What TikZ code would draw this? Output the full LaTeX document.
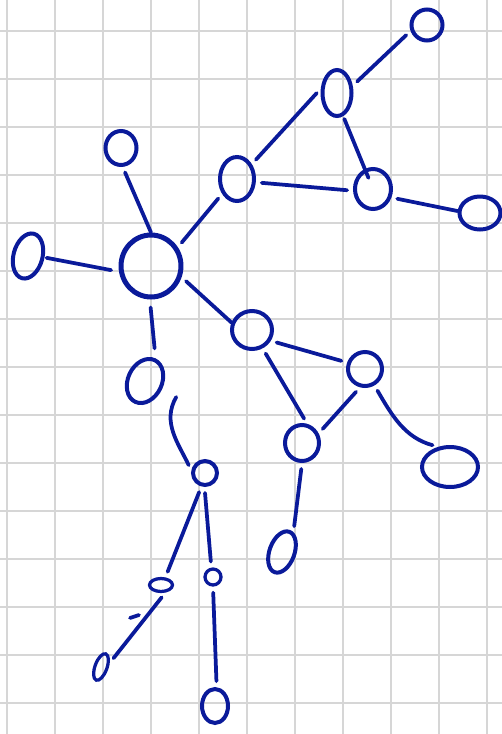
\documentclass[tikz,border=0pt]{standalone}
\usepackage{tikz}
\usetikzlibrary{calc}
\usetikzlibrary{shapes.geometric}
\definecolor{ink}{HTML}{0A1A9A}
\definecolor{paper-grid}{HTML}{D6D6D6}

\begin{document}
\begin{tikzpicture}[
    x=0.02cm, y=-0.02cm,
    vertex/.style={ellipse, draw=ink, line width=0.08cm, inner sep=0pt},
    small/.style={ellipse, draw=ink, line width=0.065cm, inner sep=0pt},
    hubnode/.style={ellipse, draw=ink, line width=0.1cm, inner sep=0pt, minimum width=1.20cm, minimum height=1.24cm},
    link/.style={draw=ink, line width=0.075cm, line cap=round, shorten >=0.12cm, shorten <=0.12cm},
    gridline/.style={draw=paper-grid, line width=0.035cm}
]
\useasboundingbox[fill=white] (0,0) rectangle (502,734);

% ── Grid paper ────────────────────────────────────────────────
\foreach \gx in {0,...,10}
    \draw[gridline] ({7+48*\gx},0) -- ({7+48*\gx},734);
\foreach \gy in {0,...,14}
    \draw[gridline] (0,{31+48*\gy}) -- (502,{31+48*\gy});

% ── Upper part (hub and triangle) ─────────────────────────────
\node[hubnode] (hub) at (151,266) {};
\node[vertex, minimum width=0.62cm, minimum height=0.62cm] (v1) at (427,25) {};
\node[vertex, minimum width=0.58cm, minimum height=0.92cm] (v2) at (337,93) {};
\node[vertex, minimum width=0.68cm, minimum height=0.88cm] (v3) at (237,179) {};
\node[vertex, minimum width=0.72cm, minimum height=0.80cm] (v4) at (373,189) {};
\node[vertex, minimum width=0.82cm, minimum height=0.66cm] (v5) at (480,213) {};
\node[vertex, minimum width=0.62cm, minimum height=0.68cm] (v6) at (121,148) {};
\node[vertex, minimum width=0.58cm, minimum height=0.92cm, rotate=-15] (v8) at (28,256) {};

\draw[link] (v1.200) -- (v2.25);
\draw[link] (v2.165) -- (v3.45);
\draw[link, shorten <=0.06cm, shorten >=0.24cm] (v2.285) -- (v4.center);
\draw[link] (v3.350) -- (v4.185);
\draw[link, shorten >=0cm] (v4.335) -- (v5.175);
\draw[link, shorten >=0cm] (v6.275) -- (hub.90);
\draw[link] (v3.225) -- (hub.35);
\draw[link, shorten <=0.04cm, shorten >=0.16cm] (v8.10) -- (hub.190);

% ── Lower right (second triangle) ─────────────────────────────
\node[vertex, minimum width=0.68cm, minimum height=0.92cm, rotate=-25] (v9) at (145,381) {};
\node[vertex, minimum width=0.80cm, minimum height=0.76cm] (v10) at (252,330) {};
\node[vertex, minimum width=0.68cm, minimum height=0.68cm] (v11) at (365,369) {};
\node[vertex, minimum width=0.68cm, minimum height=0.72cm] (v12) at (302,443) {};
\node[vertex, minimum width=1.12cm, minimum height=0.80cm] (v13) at (450,467) {};
\node[vertex, minimum width=0.50cm, minimum height=0.86cm, rotate=-20] (v15) at (282,552) {};

\draw[link, shorten <=0.16cm, shorten >=0.2cm] (hub.268) -- (v9.90);
\draw[link, shorten >=0cm] (hub.340) -- (v10.160);
\draw[link] (v10.330) -- (v11.160);
\draw[link] (v10.300) -- (v12.75);
\draw[link] (v11.255) -- (v12.30);
\draw[link] (v11.300) to[out=-60, in=165] (v13.120);
\draw[link] (v12.270) -- (v15.80);

% ── Lower left (small tree) ───────────────────────────────────
\node[vertex, minimum width=0.48cm, minimum height=0.48cm] (v14) at (205,473) {};
\node[small, minimum width=0.46cm, minimum height=0.26cm] (v16) at (161,585) {};
\node[small, minimum width=0.32cm, minimum height=0.32cm] (v17) at (213,577) {};
\node[small, minimum width=0.24cm, minimum height=0.56cm, rotate=-20] (v18) at (101,667) {};
\node[vertex, minimum width=0.52cm, minimum height=0.68cm] (v19) at (215,706) {};
\coordinate (tick) at (130,618);

\draw[link, shorten <=0cm] ($(v9.east)+(14,8)$) to[out=240, in=115] (v14.170);
\draw[link] (v14.255) -- (v16.60);
\draw[link] (v14.268) -- (v17.100);
\draw[link] (v16.300) -- (v18.45);
\draw[link, shorten <=0cm, shorten >=0cm] (tick) -- ++(9,-3);
\draw[link] (v17.270) -- (v19.85);

\end{tikzpicture}
\end{document}
